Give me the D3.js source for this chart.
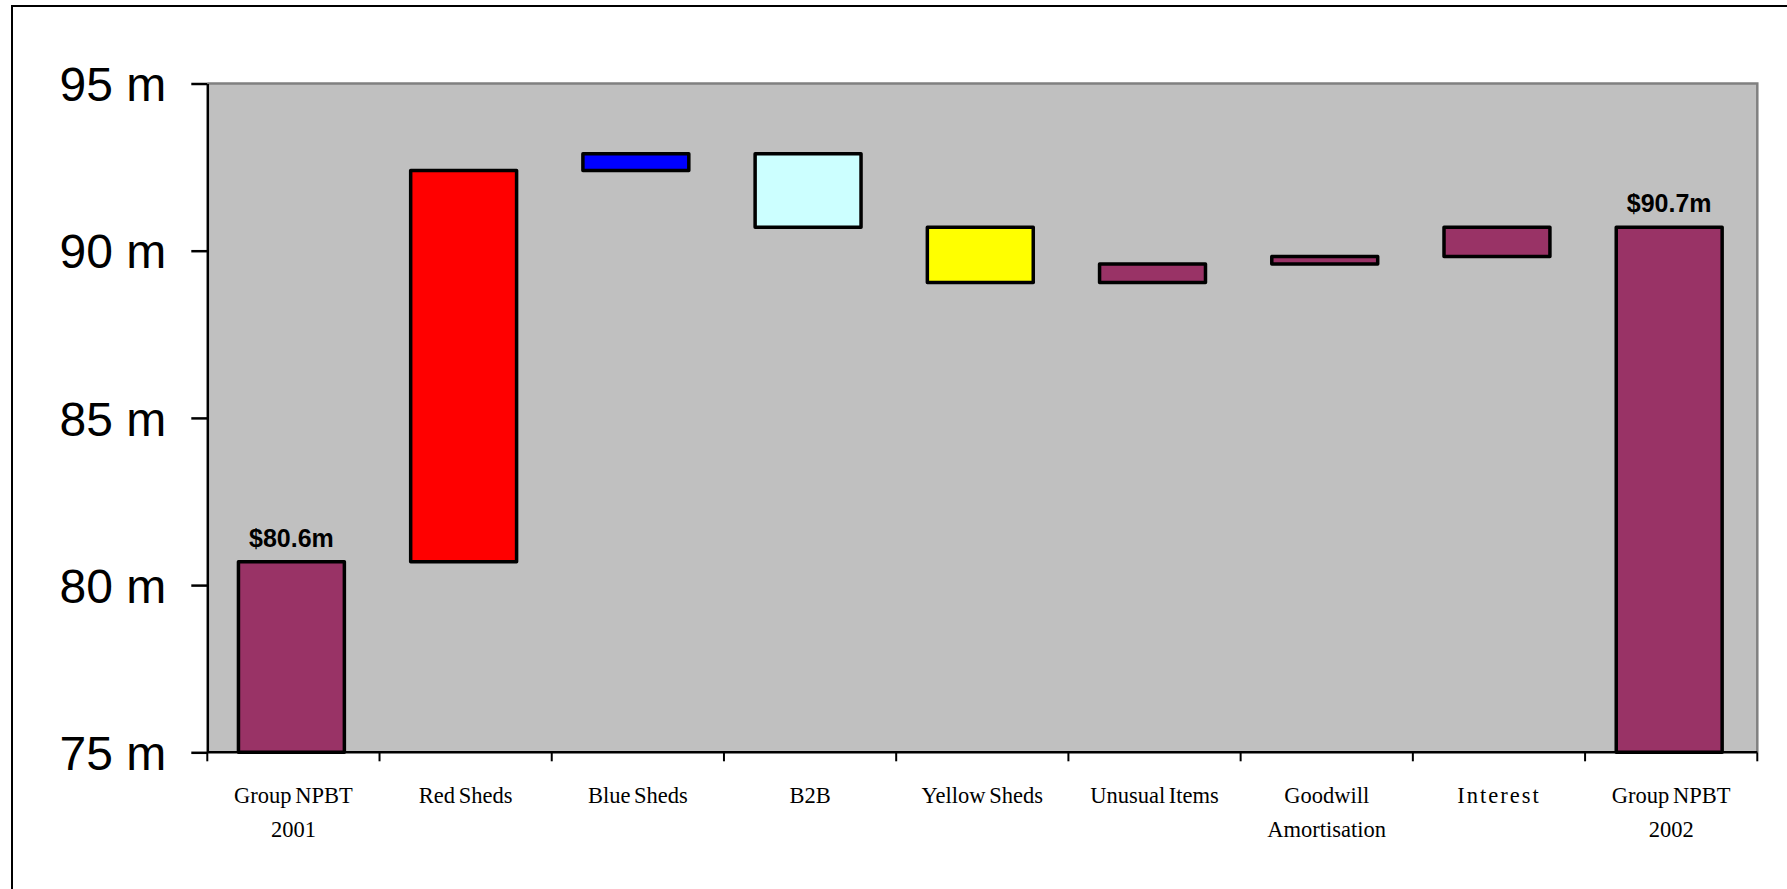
<!DOCTYPE html>
<html>
<head>
<meta charset="utf-8">
<script src="https://cdn.jsdelivr.net/npm/d3@7"></script>
<style>
  body { margin: 0; background: #fff; }
  svg { display: block; }
</style>
</head>
<body>
<div id="chart"></div>
<script>
// Datos del grafico (cascada de NPBT)
var categories = ["Group NPBT|2001", "Red Sheds", "Blue Sheds", "B2B", "Yellow Sheds",
                  "Unusual Items", "Goodwill|Amortisation", "Interest", "Group NPBT|2002"];
// cambios en millones (el primero y el ultimo son totales)
var deltas = [80.7, 11.7, 0.5, -2.2, -1.65, 0.55, 0.23, 0.87, 90.7];
var isTotal = [true, false, false, false, false, false, false, false, true];
var barColors = ["#993366", "#FF0000", "#0000FF", "#CCFFFF", "#FFFF00",
                 "#993366", "#993366", "#993366", "#993366"];
var totalLabels = ["$80.6m", "", "", "", "", "", "", "", "$90.7m"];
var yTicks = [75, 80, 85, 90, 95];

var width = 1787;
var height = 889;

// area de la grafica
var plotLeft = 207.3;
var plotRight = 1757.3;
var plotTop = 83.5;
var plotBottom = 752.3;

var svg = d3.select("#chart")
  .append("svg")
  .attr("width", width)
  .attr("height", height);

// marco exterior (solo se ven lado izquierdo y arriba)
svg.append("rect")
  .attr("x", 12)
  .attr("y", 6)
  .attr("width", 3000)
  .attr("height", 3000)
  .attr("fill", "none")
  .attr("stroke", "#000")
  .attr("stroke-width", 2);

var xScale = d3.scaleBand()
  .domain(categories)
  .range([plotLeft, plotRight])
  .padding(0);

var yScale = d3.scaleLinear()
  .domain([75, 95])
  .range([plotBottom, plotTop]);

// fondo gris
svg.append("rect")
  .attr("x", plotLeft)
  .attr("y", plotTop)
  .attr("width", plotRight - plotLeft)
  .attr("height", plotBottom - plotTop)
  .attr("fill", "#C0C0C0");

// borde gris arriba y derecha
svg.append("path")
  .attr("d", "M" + plotLeft + "," + plotTop + "H" + plotRight + "V" + plotBottom)
  .attr("fill", "none")
  .attr("stroke", "#808080")
  .attr("stroke-width", 2.5);

// calcular inicio y fin de cada barra
var level = 0;
var bars = categories.map(function(c, i) {
  var lo, hi;
  if (isTotal[i]) {
    lo = 75;
    hi = deltas[i];
    level = deltas[i];
  } else {
    var start = level;
    level = level + deltas[i];
    lo = Math.min(start, level);
    hi = Math.max(start, level);
  }
  return { cat: c, lo: lo, hi: hi, color: barColors[i], label: totalLabels[i] };
});

var barW = xScale.bandwidth() * 0.615;
var shift = -2;

svg.selectAll("rect.bar")
  .data(bars)
  .enter()
  .append("rect")
  .attr("class", "bar")
  .attr("x", function(d) {
    return xScale(d.cat) + (xScale.bandwidth() - barW) / 2 + shift;
  })
  .attr("y", function(d) { return yScale(d.hi); })
  .attr("width", barW)
  .attr("height", function(d) { return yScale(d.lo) - yScale(d.hi); })
  .attr("fill", function(d) { return d.color; })
  .attr("stroke", "#000")
  .attr("stroke-width", 3.5)
  .attr("stroke-linejoin", "round");

// etiquetas de los totales
svg.selectAll("text.total")
  .data(bars.filter(function(d) { return d.label !== ""; }))
  .enter()
  .append("text")
  .attr("class", "total")
  .attr("x", function(d) {
    return xScale(d.cat) + xScale.bandwidth() / 2 + shift;
  })
  .attr("y", function(d) { return yScale(d.hi) - 15; })
  .attr("text-anchor", "middle")
  .attr("font-family", "Liberation Sans, Arial, sans-serif")
  .attr("font-weight", "bold")
  .attr("font-size", 25)
  .attr("fill", "#000")
  .text(function(d) { return d.label; });

// eje Y
var yAxis = d3.axisLeft(yScale)
  .tickValues(yTicks)
  .tickFormat(function(d) { return d + " m"; })
  .tickSize(16)
  .tickSizeOuter(0)
  .tickPadding(25);

var yG = svg.append("g")
  .attr("transform", "translate(" + plotLeft + ",0)")
  .call(yAxis);
yG.select(".domain").attr("stroke", "#000").attr("stroke-width", 2.5);
yG.selectAll(".tick line").attr("stroke", "#000").attr("stroke-width", 2.5);
yG.selectAll(".tick text")
  .attr("font-family", "Liberation Sans, Arial, sans-serif")
  .attr("font-size", 48)
  .attr("fill", "#000")
  .attr("dy", "0.36em");

// eje X (ticks en los bordes de las categorias)
svg.append("line")
  .attr("x1", plotLeft)
  .attr("x2", plotRight)
  .attr("y1", plotBottom)
  .attr("y2", plotBottom)
  .attr("stroke", "#000")
  .attr("stroke-width", 2.5);

var edges = categories.map(function(c) { return xScale(c); }).concat([plotRight]);
svg.selectAll("line.xtick")
  .data(edges)
  .enter()
  .append("line")
  .attr("class", "xtick")
  .attr("x1", function(d) { return d; })
  .attr("x2", function(d) { return d; })
  .attr("y1", plotBottom)
  .attr("y2", plotBottom + 9)
  .attr("stroke", "#000")
  .attr("stroke-width", 2);

// nombres de las categorias
var xLabels = svg.selectAll("text.xlab")
  .data(categories)
  .enter()
  .append("text")
  .attr("class", "xlab")
  .attr("text-anchor", "middle")
  .attr("font-family", "Liberation Serif, Times New Roman, serif")
  .attr("font-size", 22.5)
  .attr("fill", "#000")
  .attr("word-spacing", -2)
  .attr("letter-spacing", function(d) { return d === "Interest" ? 2 : 0; });

xLabels.each(function(c) {
  var lines = c.split("|");
  var cx = xScale(c) + xScale.bandwidth() / 2;
  d3.select(this).selectAll("tspan")
    .data(lines)
    .enter()
    .append("tspan")
    .attr("x", cx)
    .attr("y", function(d, i) { return 803 + i * 34; })
    .text(function(d) { return d; });
});
</script>
</body>
</html>
